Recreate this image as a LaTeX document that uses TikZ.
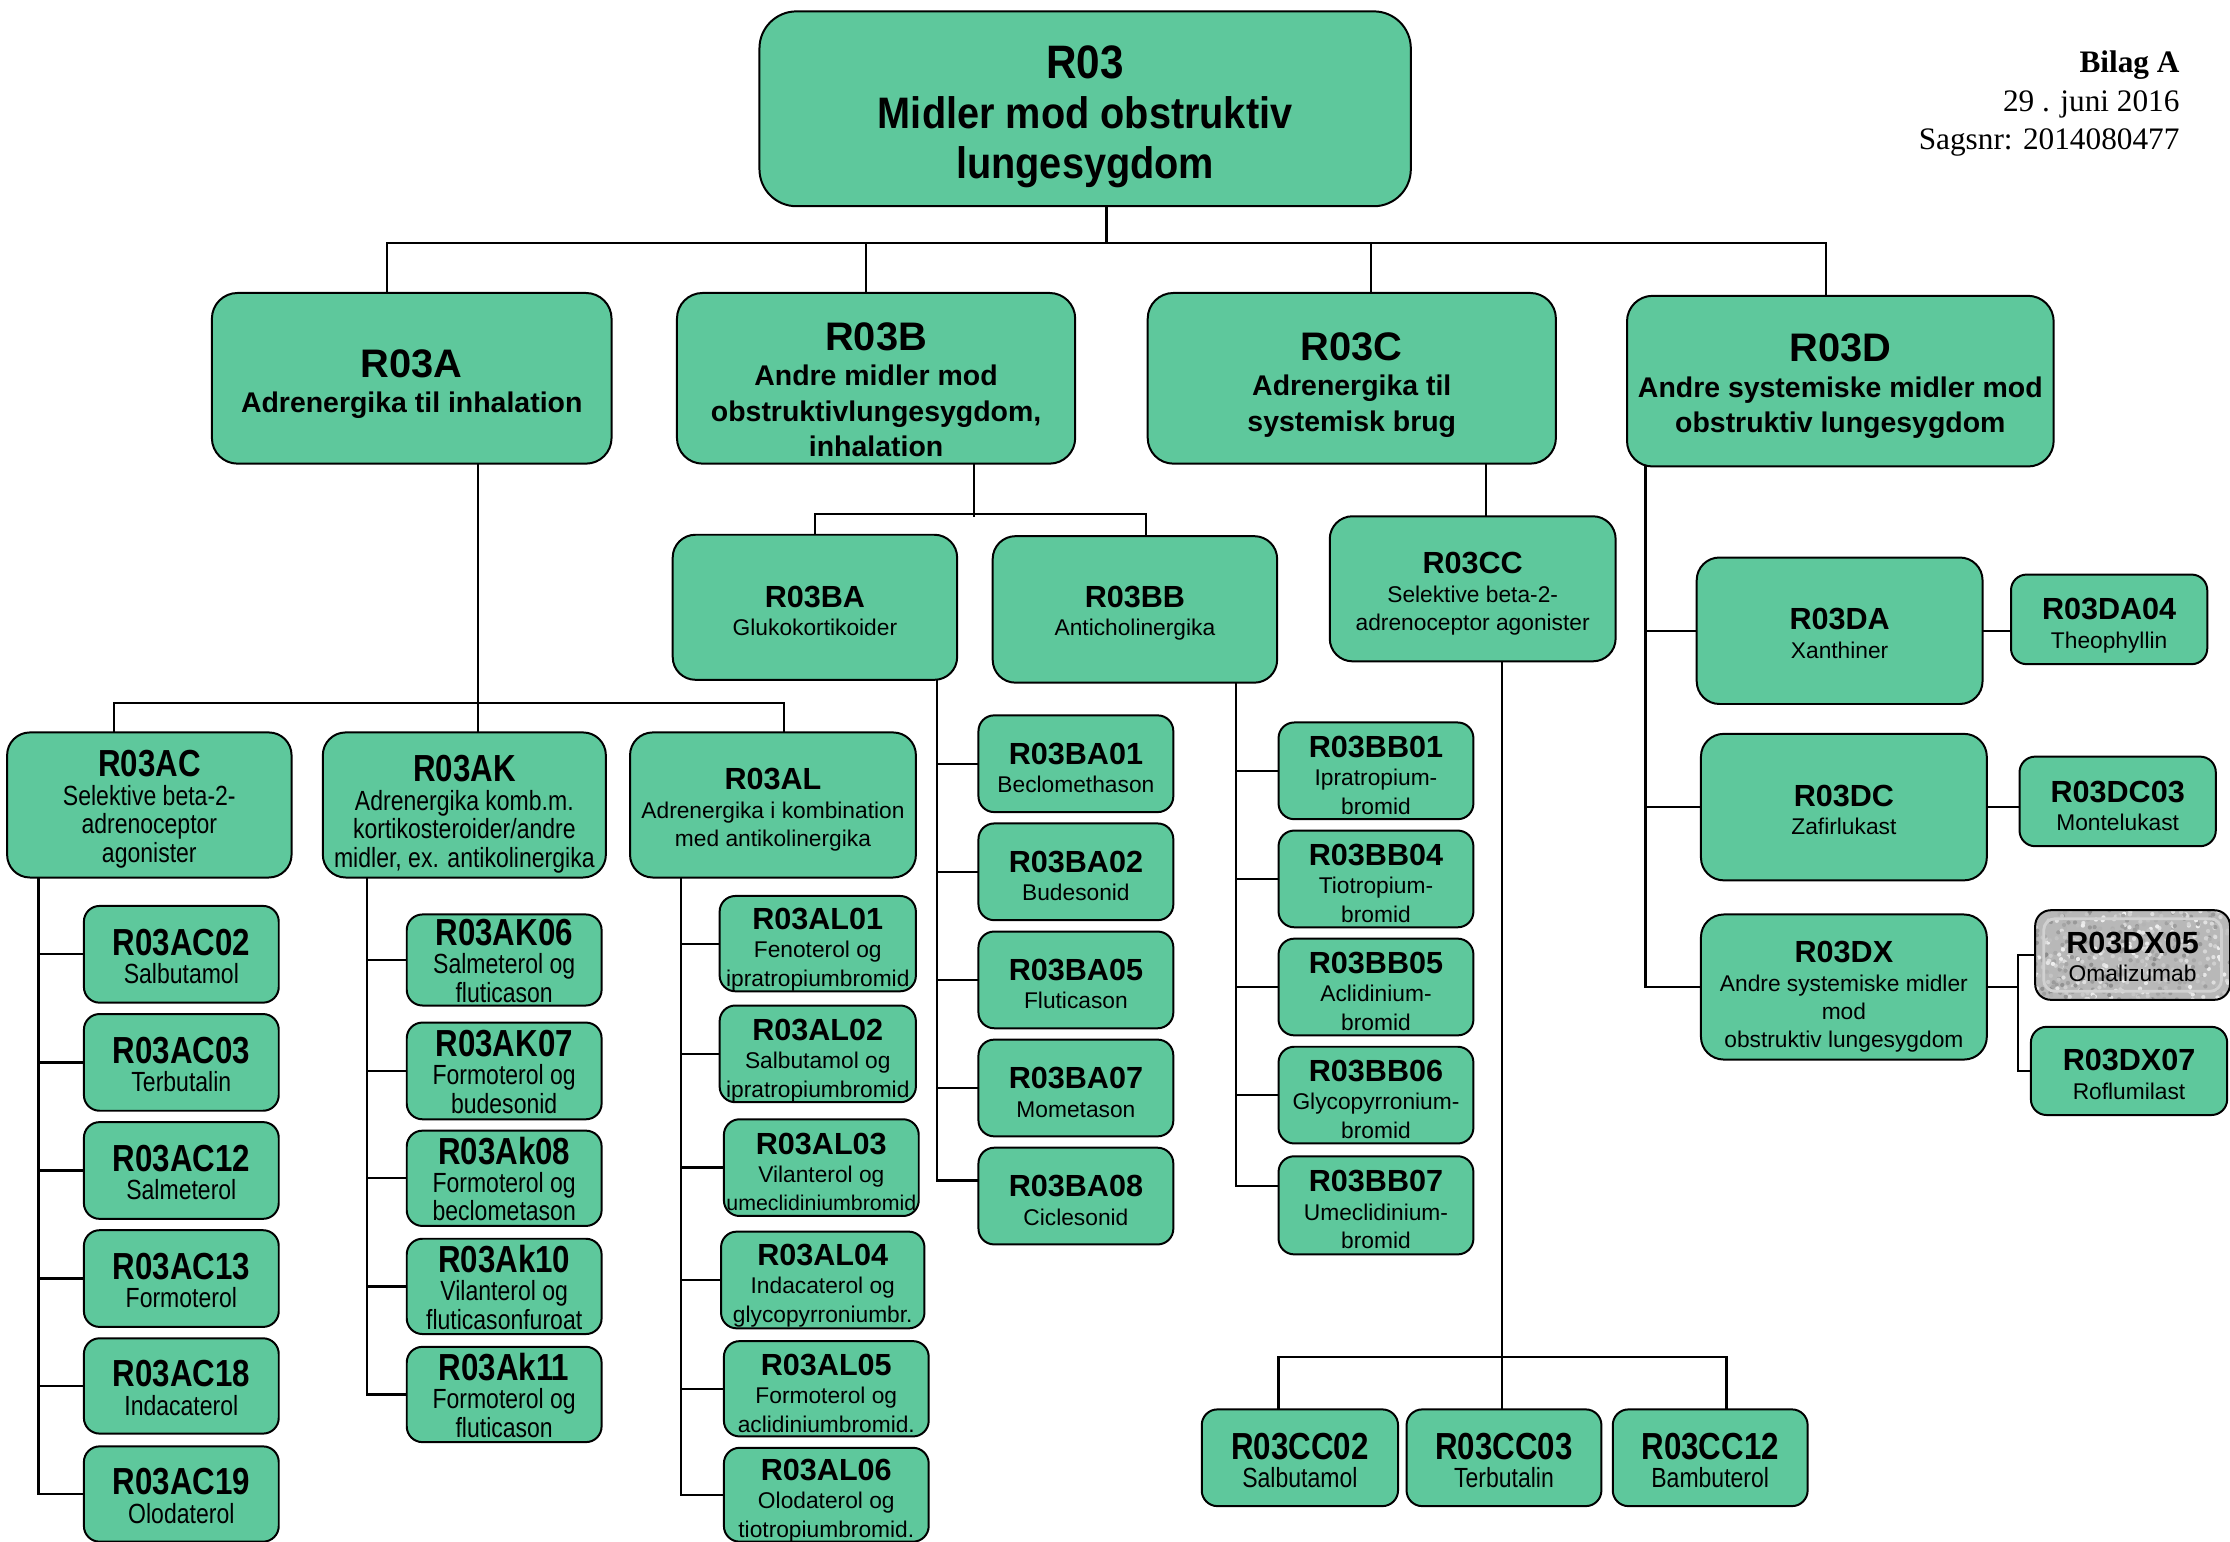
\documentclass[tikz,border=0pt]{standalone}
\usepackage{fontspec}
\setmainfont{Liberation Sans}
\newfontfamily\nsans[FakeStretch=0.83]{Liberation Sans}
\newfontfamily\tsans[FakeStretch=0.9]{Liberation Sans}
\newfontfamily\serifA{Liberation Serif}
\definecolor{boxgreen}{RGB}{94,200,156}
\newcommand\ttl[1]{{\fontsize{21.5}{20}\selectfont\bfseries #1}}
\newcommand\nttl[1]{{\fontsize{26.5}{20}\selectfont\bfseries #1}}
\newcommand\bttl[1]{{\fontsize{28}{25}\selectfont\bfseries #1}}
\def\tdown{3}
\newcommand\bx[7][]{%
  \node[box,#1,minimum width={#5pt-#3pt},minimum height={#6pt-#4pt}] (#2) at ({(#3+#5)/2},{(#4+#6)/2}) {};
  \node[box,#1,draw=none,fill=none,minimum width=0pt,minimum height=0pt,yshift={-\tdown*1pt}] (#2t) at (#2.center) {#7};}
\tikzset{
  tdown/.code={\def\tdown{#1}},
  box/.style={draw, fill=boxgreen, rounded corners=11pt, line width=1.4pt, inner sep=0pt, align=center, font=\fontsize{16}{20}\selectfont},
  narrow/.style={font=\nsans\fontsize{19.5}{20}\selectfont, tdown=1},
  mid/.style={rounded corners=16pt},
  big/.style={rounded corners=18pt, font=\bfseries\fontsize{20}{25}\selectfont},
  top/.style={rounded corners=26pt, font=\tsans\bfseries\fontsize{31}{35}\selectfont},
  conn/.style={line width=1.6pt, line cap=rect},
}
\begin{document}
\begin{tikzpicture}[x=1pt,y=-1pt]
\useasboundingbox (0,0) rectangle (1568,1084);
% header text
\node[anchor=east, align=right, font=\serifA\fontsize{22}{27}\selectfont] (hdr) at (1536,73) {\textbf{Bilag A}\\29 . juni 2016\\Sagsnr: 2014080477};
% top
\bx[top,tdown=5.5]{R03}{534}{8}{992}{145}{{\fontsize{33}{35}\selectfont R03}\\Midler mod obstruktiv\\lungesygdom}
% level 1
\bx[big,tdown=4]{R03A}{149}{206}{430}{326}{\bttl{R03A}\\Adrenergika til inhalation}
\bx[big,tdown=8]{R03B}{476}{206}{756}{326}{\bttl{R03B}\\Andre midler mod\\obstruktivlungesygdom,\\inhalation}
\bx[big,tdown=4.5]{R03C}{807}{206}{1094}{326}{\bttl{R03C}\\Adrenergika til\\systemisk brug}
\bx[big,tdown=3.5]{R03D}{1144}{208}{1444}{328}{\bttl{R03D}\\Andre systemiske midler mod\\obstruktiv lungesygdom}
% level 2
\bx[mid,narrow,tdown=3]{R03AC}{5}{515}{205}{617}{\nttl{R03AC}\\Selektive beta-2-\\adrenoceptor\\agonister}
\bx[mid,narrow,tdown=6.5]{R03AK}{227}{515}{426}{617}{\nttl{R03AK}\\Adrenergika komb.m.\\kortikosteroider/andre\\midler, ex. antikolinergika}
\bx[mid,tdown=3.5]{R03AL}{443}{515}{644}{617}{\ttl{R03AL}\\Adrenergika i kombination\\med antikolinergika}
\bx[mid,tdown=2.5]{R03BA}{473}{376}{673}{478}{\ttl{R03BA}\\Glukokortikoider}
\bx[mid,tdown=2.5]{R03BB}{698}{377}{898}{480}{\ttl{R03BB}\\Anticholinergika}
\bx[mid,tdown=3.5]{R03CC}{935}{363}{1136}{465}{\ttl{R03CC}\\Selektive beta-2-\\adrenoceptor agonister}
\bx[mid,tdown=2]{R03DA}{1193}{392}{1394}{495}{\ttl{R03DA}\\Xanthiner}
\bx[mid,tdown=2]{R03DC}{1196}{516}{1397}{619}{\ttl{R03DC}\\Zafirlukast}
\bx[mid,tdown=7]{R03DX}{1196}{643}{1397}{745}{\ttl{R03DX}\\Andre systemiske midler\\mod\\obstruktiv lungesygdom}
% R03AC children
\bx[narrow,tdown=1.5]{R03AC02}{59}{637}{196}{705}{\nttl{R03AC02}\\Salbutamol}
\bx[narrow,tdown=1.5]{R03AC03}{59}{713}{196}{781}{\nttl{R03AC03}\\Terbutalin}
\bx[narrow,tdown=1.5]{R03AC12}{59}{789}{196}{857}{\nttl{R03AC12}\\Salmeterol}
\bx[narrow,tdown=1.5]{R03AC13}{59}{865}{196}{933}{\nttl{R03AC13}\\Formoterol}
\bx[narrow,tdown=1.5]{R03AC18}{59}{941}{196}{1008}{\nttl{R03AC18}\\Indacaterol}
\bx[narrow,tdown=1.5]{R03AC19}{59}{1017}{196}{1084}{\nttl{R03AC19}\\Olodaterol}
% R03AK children
\bx[narrow,tdown=0.5]{R03AK06}{286}{643}{423}{707}{\nttl{R03AK06}\\Salmeterol og\\fluticason}
\bx[narrow,tdown=0.5]{R03AK07}{286}{719}{423}{787}{\nttl{R03AK07}\\Formoterol og\\budesonid}
\bx[narrow,tdown=0.5]{R03Ak08}{286}{795}{423}{862}{\nttl{R03Ak08}\\Formoterol og\\beclometason}
\bx[narrow,tdown=0.5]{R03Ak10}{286}{871}{423}{938}{\nttl{R03Ak10}\\Vilanterol og\\fluticasonfuroat}
\bx[narrow,tdown=0.5]{R03Ak11}{286}{947}{423}{1014}{\nttl{R03Ak11}\\Formoterol og\\fluticason}
% R03AL children
\bx[tdown=4]{R03AL01}{506}{630}{644}{697}{\ttl{R03AL01}\\Fenoterol og\\ipratropiumbromid}
\bx[tdown=4.5]{R03AL02}{506}{707}{644}{775}{\ttl{R03AL02}\\Salbutamol og\\ipratropiumbromid}
\bx[tdown=3]{R03AL03}{509}{787}{646}{855}{\ttl{R03AL03}\\Vilanterol og\\{\fontsize{15}{20}\selectfont umeclidiniumbromid}}
\bx[tdown=4]{R03AL04}{507}{866}{650}{934}{\ttl{R03AL04}\\Indacaterol og\\glycopyrroniumbr.}
\bx[tdown=3]{R03AL05}{509}{943}{653}{1010}{\ttl{R03AL05}\\Formoterol og\\aclidiniumbromid.}
\bx[tdown=4]{R03AL06}{509}{1018}{653}{1084}{\ttl{R03AL06}\\Olodaterol og\\tiotropiumbromid.}
% R03BA children
\bx{R03BA01}{688}{503}{825}{571}{\ttl{R03BA01}\\Beclomethason}
\bx{R03BA02}{688}{579}{825}{647}{\ttl{R03BA02}\\Budesonid}
\bx{R03BA05}{688}{655}{825}{723}{\ttl{R03BA05}\\Fluticason}
\bx{R03BA07}{688}{731}{825}{799}{\ttl{R03BA07}\\Mometason}
\bx{R03BA08}{688}{807}{825}{875}{\ttl{R03BA08}\\Ciclesonid}
% R03BB children
\bx{R03BB01}{899}{508}{1036}{576}{\ttl{R03BB01}\\Ipratropium-\\bromid}
\bx{R03BB04}{899}{584}{1036}{652}{\ttl{R03BB04}\\Tiotropium-\\bromid}
\bx{R03BB05}{899}{660}{1036}{728}{\ttl{R03BB05}\\Aclidinium-\\bromid}
\bx{R03BB06}{899}{736}{1036}{804}{\ttl{R03BB06}\\Glycopyrronium-\\bromid}
\bx{R03BB07}{899}{813}{1036}{882}{\ttl{R03BB07}\\Umeclidinium-\\bromid}
% R03CC children
\bx[narrow,tdown=2]{R03CC02}{845}{991}{983}{1059}{\nttl{R03CC02}\\Salbutamol}
\bx[narrow,tdown=2]{R03CC03}{989}{991}{1126}{1059}{\nttl{R03CC03}\\Terbutalin}
\bx[narrow,tdown=2]{R03CC12}{1134}{991}{1271}{1059}{\nttl{R03CC12}\\Bambuterol}
% R03D children
\bx[tdown=4.5]{R03DA04}{1414}{404}{1552}{467}{\ttl{R03DA04}\\Theophyllin}
\bx[tdown=3]{R03DC03}{1420}{532}{1558}{595}{\ttl{R03DC03}\\Montelukast}
\begin{scope}
  \clip[rounded corners=11pt] (1431,640) rectangle (1568,703);
  \fill[black!28] (1431,640) rectangle (1568,703);
  \pgfmathsetseed{7}
  \foreach \i in {1,...,500}{
    \pgfmathsetmacro\xx{1431+137*rnd}
    \pgfmathsetmacro\yy{640+63*rnd}
    \pgfmathsetmacro\gg{5+40*rnd}
    \fill[black!\gg] (\xx,\yy) circle (1.5);
  }
  \draw[black!18, line width=2pt, rounded corners=8pt] (1437,646) rectangle (1562,697);
\end{scope}
\bx[fill=none,tdown=1.5]{R03DX05}{1431}{640}{1568}{703}{\ttl{R03DX05}\\Omalizumab}
\bx[tdown=2.5]{R03DX07}{1428}{722}{1566}{784}{\ttl{R03DX07}\\Roflumilast}
% ---------- connectors ----------
\begin{scope}[conn]
\coordinate (t) at (0,171);
\draw ([xshift=15pt]R03.south) -- ([xshift=15pt]R03.south |- t);
\draw ([xshift=-17.5pt]R03A.north) -- ([xshift=-17.5pt]R03A.north |- t) -- ([xshift=-10pt]R03D.north |- t) -- ([xshift=-10pt]R03D.north);
\draw ([xshift=-7pt]R03B.north) -- ([xshift=-7pt]R03B.north |- t);
\draw ([xshift=13.5pt]R03C.north) -- ([xshift=13.5pt]R03C.north |- t);
% R03A
\draw ([xshift=46.5pt]R03A.south) -- ++(0,169);
\draw ([xshift=-25pt]R03AC.north) -- ++(0,-20) -| ([xshift=7.5pt]R03AL.north);
\draw ([xshift=9.5pt]R03AK.north) -- ++(0,-20);
\coordinate (acs) at ([xshift=-78pt]R03AC.south);
\draw (acs) -- (acs |- R03AC19.west);
\foreach \c in {R03AC02,R03AC03,R03AC12,R03AC13,R03AC18,R03AC19}
  \draw (\c.west -| acs) -- (\c.west);
\coordinate (aks) at ([xshift=-68.5pt]R03AK.south);
\draw (aks) -- (aks |- R03Ak11.west);
\foreach \c in {R03AK06,R03AK07,R03Ak08,R03Ak10,R03Ak11}
  \draw (\c.west -| aks) -- (\c.west);
\coordinate (als) at ([xshift=-64.5pt]R03AL.south);
\draw (als) -- (als |- R03AL06.west);
\foreach \c in {R03AL01,R03AL02,R03AL03,R03AL04,R03AL05,R03AL06}
  \draw (\c.west -| als) -- (\c.west);
% R03B
\draw ([xshift=69pt]R03B.south) -- ++(0,36);
\draw (R03BA.north) -- ++(0,-14) -| ([xshift=8pt]R03BB.north);
\coordinate (bas) at ([xshift=86pt]R03BA.south);
\coordinate (ba8) at ([yshift=11pt]R03BA08.west);
\draw (bas) -- (ba8 -| bas);
\foreach \c in {R03BA01,R03BA02,R03BA05,R03BA07}
  \draw (\c.west -| bas) -- (\c.west);
\draw (ba8 -| bas) -- (ba8);
\coordinate (bbs) at ([xshift=71pt]R03BB.south);
\coordinate (bb7) at ([yshift=13.5pt]R03BB07.west);
\draw (bbs) -- (bb7 -| bbs);
\foreach \c in {R03BB01,R03BB04,R03BB05,R03BB06}
  \draw (\c.west -| bbs) -- (\c.west);
\draw (bb7 -| bbs) -- (bb7);
% R03C
\draw ([xshift=94.5pt]R03C.south) -- ([xshift=94.5pt]R03C.south |- R03CC.north);
\draw ([xshift=20.5pt]R03CC.south) -- ([xshift=20.5pt]R03CC.south |- R03CC03.north);
\draw ([xshift=-15pt]R03CC02.north) -- ++(0,-36) -| ([xshift=11.5pt]R03CC12.north);
% R03D
\coordinate (ds) at ([xshift=-137pt]R03D.south);
\draw (ds) -- (ds |- R03DX.west);
\foreach \c in {R03DA,R03DC,R03DX}
  \draw (\c.west -| ds) -- (\c.west);
\draw (R03DA.east) -- (R03DA.east -| R03DA04.west);
\draw (R03DC.east) -- (R03DC.east -| R03DC03.west);
\coordinate (dxj) at ([xshift=21pt]R03DX.east);
\draw (R03DX.east) -- (dxj);
\draw (R03DX05.west) -| (dxj) |- (R03DX07.west);
\end{scope}
\end{tikzpicture}
\end{document}
